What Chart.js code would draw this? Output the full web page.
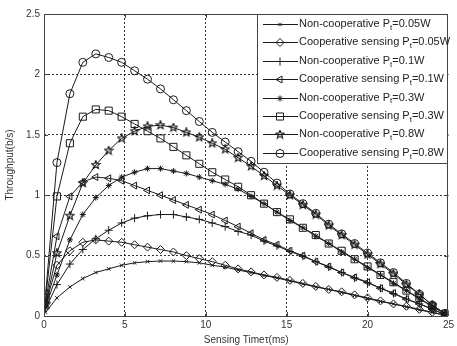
<!DOCTYPE html>
<html>
<head>
<meta charset="utf-8">
<style>
  html, body { margin: 0; padding: 0; background: #fff; }
  #wrap { width: 457px; height: 346px; position: relative; }
</style>
<script src="https://cdn.jsdelivr.net/npm/chart.js@4.4.1/dist/chart.umd.min.js"></script>
</head>
<body>
<div id="wrap"><canvas id="c" width="457" height="346"></canvas></div>
<script>
// Sensing time samples (ms)
const tau = [0.1, 0.8, 1.6, 2.4, 3.2, 4.0, 4.8, 5.6, 6.4, 7.2, 8.0, 8.8, 9.6, 10.4, 11.2, 12.0,
             12.8, 13.6, 14.4, 15.2, 16.0, 16.8, 17.6, 18.4, 19.2, 20.0, 20.8, 21.6, 22.4, 23.2, 24.0, 24.8];

// Throughput (b/s) for each scheme and transmit power
const nonCoop005 = [0.03, 0.15, 0.24, 0.31, 0.36, 0.39, 0.42, 0.44, 0.45, 0.455, 0.455, 0.45, 0.44, 0.42, 0.405, 0.38,
                    0.36, 0.335, 0.315, 0.29, 0.265, 0.24, 0.22, 0.195, 0.17, 0.145, 0.12, 0.10, 0.075, 0.05, 0.03, 0.005];
const coop005    = [0.10, 0.42, 0.54, 0.61, 0.63, 0.62, 0.61, 0.59, 0.57, 0.55, 0.53, 0.50, 0.475, 0.45, 0.42, 0.39,
                    0.365, 0.34, 0.32, 0.295, 0.27, 0.245, 0.22, 0.20, 0.175, 0.15, 0.125, 0.10, 0.08, 0.055, 0.03, 0.006];
const nonCoop01  = [0.06, 0.26, 0.43, 0.55, 0.64, 0.71, 0.77, 0.81, 0.83, 0.84, 0.84, 0.82, 0.80, 0.77, 0.74, 0.70,
                    0.67, 0.62, 0.58, 0.535, 0.495, 0.45, 0.405, 0.36, 0.315, 0.275, 0.23, 0.185, 0.14, 0.10, 0.055, 0.01];
const coop01     = [0.12, 0.66, 0.99, 1.11, 1.15, 1.14, 1.12, 1.08, 1.04, 1.00, 0.96, 0.92, 0.88, 0.84, 0.79, 0.74,
                    0.685, 0.63, 0.59, 0.54, 0.50, 0.45, 0.41, 0.36, 0.32, 0.28, 0.23, 0.19, 0.14, 0.10, 0.06, 0.01];
const nonCoop03  = [0.08, 0.34, 0.63, 0.84, 0.98, 1.08, 1.15, 1.19, 1.22, 1.22, 1.20, 1.18, 1.15, 1.12, 1.09, 1.05,
                    0.99, 0.93, 0.86, 0.79, 0.73, 0.66, 0.60, 0.53, 0.47, 0.40, 0.34, 0.27, 0.21, 0.14, 0.08, 0.02];
const coop03     = [0.15, 0.99, 1.43, 1.65, 1.71, 1.70, 1.65, 1.59, 1.53, 1.47, 1.40, 1.33, 1.26, 1.19, 1.13, 1.07,
                    1.00, 0.93, 0.86, 0.80, 0.73, 0.67, 0.60, 0.54, 0.47, 0.41, 0.34, 0.28, 0.21, 0.15, 0.08, 0.02];
const nonCoop08  = [0.10, 0.52, 0.83, 1.10, 1.25, 1.37, 1.47, 1.53, 1.57, 1.58, 1.56, 1.52, 1.48, 1.43, 1.38, 1.31,
                    1.24, 1.16, 1.08, 1.00, 0.92, 0.84, 0.75, 0.67, 0.59, 0.51, 0.43, 0.35, 0.26, 0.18, 0.09, 0.02];
const coop08     = [0.18, 1.27, 1.84, 2.10, 2.17, 2.14, 2.10, 2.03, 1.96, 1.88, 1.79, 1.70, 1.61, 1.52, 1.44, 1.36,
                    1.28, 1.19, 1.10, 1.01, 0.93, 0.85, 0.76, 0.68, 0.60, 0.52, 0.44, 0.36, 0.27, 0.18, 0.09, 0.02];

const seriesLabels = [
  'Non-cooperative P_t=0.05W',
  'Cooperative sensing P_t=0.05W',
  'Non-cooperative P_t=0.1W',
  'Cooperative sensing P_t=0.1W',
  'Non-cooperative P_t=0.3W',
  'Cooperative sensing P_t=0.3W',
  'Non-cooperative P_t=0.8W',
  'Cooperative sensing P_t=0.8W'
];
const seriesValues = [nonCoop005, coop005, nonCoop01, coop01, nonCoop03, coop03, nonCoop08, coop08];

const xTicks = [0, 5, 10, 15, 20, 25];
const yTicks = [0, 0.5, 1, 1.5, 2, 2.5];

const INK = '#1a1a1a';
const FONT = '"Liberation Sans", Arial, sans-serif';

// Five-pointed star marker
function makePentagram(size) {
  const cv = document.createElement('canvas');
  cv.width = size; cv.height = size;
  const g = cv.getContext('2d');
  const c = size / 2, R = size / 2 - 0.6, r = R * 0.42;
  g.beginPath();
  for (let i = 0; i < 10; i++) {
    const a = -Math.PI / 2 + i * Math.PI / 5;
    const rad = i % 2 === 0 ? R : r;
    const px = c + rad * Math.cos(a), py = c + rad * Math.sin(a);
    if (i === 0) g.moveTo(px, py); else g.lineTo(px, py);
  }
  g.closePath();
  g.strokeStyle = '#111';
  g.lineWidth = 1.1;
  g.stroke();
  return cv;
}
const pentagram = makePentagram(10);

const markerStyles = [
  { pointStyle: 'crossRot', radius: 2.5, rotation: 0 },
  { pointStyle: 'rectRot',  radius: 4,   rotation: 0 },
  { pointStyle: 'cross',    radius: 4,   rotation: 0 },
  { pointStyle: 'triangle', radius: 4,   rotation: -90 },
  { pointStyle: 'star',     radius: 3,   rotation: 0 },
  { pointStyle: 'rect',     radius: 5,   rotation: 0 },
  { pointStyle: pentagram,  radius: 5,   rotation: 0 },
  { pointStyle: 'circle',   radius: 4,   rotation: 0 }
];

const datasets = seriesValues.map((vals, i) => ({
  label: seriesLabels[i],
  data: tau.map((t, k) => ({ x: t, y: vals[k] })),
  borderColor: INK,
  borderWidth: 1,
  tension: 0,
  fill: false,
  pointStyle: markerStyles[i].pointStyle,
  pointRadius: markerStyles[i].radius,
  pointRotation: markerStyles[i].rotation,
  pointBorderColor: INK,
  pointBackgroundColor: 'rgba(0,0,0,0)',
  pointBorderWidth: 1
}));

// Frame with inward tick marks, and the boxed legend in the upper right
const framePlugin = {
  id: 'frame',
  afterDraw(chart) {
    const { ctx, chartArea: a, scales } = chart;
    ctx.save();
    ctx.strokeStyle = '#444';
    ctx.lineWidth = 1;
    ctx.setLineDash([]);
    ctx.strokeRect(Math.round(a.left) + 0.5, Math.round(a.top) + 0.5,
                   Math.round(a.right - a.left) - 1, Math.round(a.bottom - a.top));
    const tl = 4;
    ctx.beginPath();
    xTicks.slice(1, -1).forEach(v => {
      const px = Math.round(scales.x.getPixelForValue(v)) + 0.5;
      ctx.moveTo(px, a.bottom); ctx.lineTo(px, a.bottom - tl);
      ctx.moveTo(px, a.top); ctx.lineTo(px, a.top + tl);
    });
    yTicks.slice(1, -1).forEach(v => {
      const py = Math.round(scales.y.getPixelForValue(v)) + 0.5;
      ctx.moveTo(a.left, py); ctx.lineTo(a.left + tl, py);
      ctx.moveTo(a.right, py); ctx.lineTo(a.right - tl, py);
    });
    ctx.stroke();

    // legend
    const lx = 257, ly = Math.round(a.top), lw = Math.round(a.right) - 257 - 1, lh = 149;
    ctx.fillStyle = '#fff';
    ctx.fillRect(lx, ly, lw, lh);
    ctx.strokeStyle = '#444';
    ctx.strokeRect(lx + 0.5, ly + 0.5, lw, lh);
    const drawPoint = Chart.helpers && Chart.helpers.drawPoint;
    chart.data.datasets.forEach((ds, i) => {
      const y = ly + 10 + i * 18.4;
      ctx.strokeStyle = INK;
      ctx.lineWidth = 1;
      ctx.beginPath();
      ctx.moveTo(lx + 6, Math.round(y) + 0.5);
      ctx.lineTo(lx + 41, Math.round(y) + 0.5);
      ctx.stroke();
      if (drawPoint) {
        ctx.fillStyle = 'rgba(0,0,0,0)';
        drawPoint(ctx, { pointStyle: ds.pointStyle, radius: ds.pointRadius,
                         rotation: ds.pointRotation, borderWidth: 1 }, lx + 23, Math.round(y) + 0.5);
      }
      // label with subscript t
      const parts = ds.label.split('_t');
      ctx.fillStyle = '#222';
      ctx.textBaseline = 'middle';
      ctx.textAlign = 'left';
      ctx.font = '11px ' + FONT;
      let tx = lx + 42;
      ctx.fillText(parts[0], tx, y);
      tx += ctx.measureText(parts[0]).width;
      ctx.font = '8px ' + FONT;
      ctx.fillText('t', tx, y + 3.5);
      tx += ctx.measureText('t').width;
      ctx.font = '11px ' + FONT;
      ctx.fillText(parts[1], tx, y);
    });
    ctx.restore();
  }
};

const gridColor = (edgeMin, edgeMax) => c =>
  (c.tick && (c.tick.value === edgeMin || c.tick.value === edgeMax)) ? 'rgba(0,0,0,0)' : 'rgba(0,0,0,0.8)';

new Chart(document.getElementById('c'), {
  type: 'line',
  data: { datasets },
  options: {
    responsive: false,
    animation: false,
    devicePixelRatio: 1,
    layout: { padding: { top: 14, right: 5, left: 0, bottom: 0 } },
    plugins: { legend: { display: false }, tooltip: { enabled: false } },
    scales: {
      x: {
        type: 'linear',
        min: 0, max: 25,
        afterBuildTicks: s => { s.ticks = xTicks.map(v => ({ value: v })); },
        afterFit: s => { s.height = 30; },
        ticks: { color: '#333', font: { size: 10, family: FONT }, padding: 3, maxRotation: 0,
                 callback: v => String(v) },
        grid: { color: gridColor(0, 25), lineWidth: 1, drawTicks: false },
        border: { display: false, dash: [2, 2] },
        title: { display: true, text: 'Sensing Timeτ(ms)', color: '#333',
                 font: { size: 10, family: FONT }, padding: { top: 0, bottom: 0 } }
      },
      y: {
        type: 'linear',
        min: 0, max: 2.5,
        afterBuildTicks: s => { s.ticks = yTicks.map(v => ({ value: v })); },
        afterFit: s => { s.width = 44; },
        ticks: { color: '#333', font: { size: 10, family: FONT }, padding: 4,
                 callback: v => String(v) },
        grid: { color: gridColor(0, 2.5), lineWidth: 1, drawTicks: false },
        border: { display: false, dash: [2, 2] },
        title: { display: true, text: 'Throughput(b/s)', color: '#333',
                 font: { size: 10, family: FONT }, padding: { top: 4, bottom: 0 } }
      }
    }
  },
  plugins: [framePlugin]
});
</script>
</body>
</html>
